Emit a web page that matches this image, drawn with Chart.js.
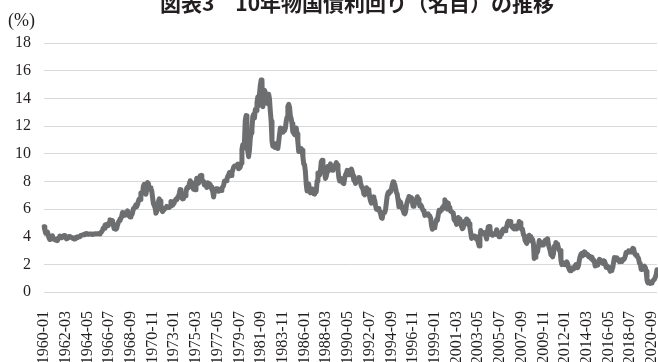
<!DOCTYPE html>
<html>
<head>
<meta charset="utf-8">
<script src="https://cdn.jsdelivr.net/npm/chart.js@4.4.1/dist/chart.umd.min.js"></script>
<style>
  html, body { margin: 0; padding: 0; background: #fff; overflow: hidden; }
  #wrap { position: relative; width: 658px; height: 362px; }
</style>
</head>
<body>
<div id="wrap"><canvas id="c" width="658" height="362"></canvas></div>
<script>
// 10-year government bond yield (nominal), monthly averages, %
const titleText = '図表3　10年物国債利回り（名目）の推移';
const unitLabel = '(%)';
const startYear = 1960;
const labelEvery = 26;           // one x label every 26 months
const yTicks = [0, 2, 4, 6, 8, 10, 12, 14, 16, 18];

const yields = [
  /*1960*/ 4.72, 4.49, 4.25, 4.28, 4.35, 4.15, 3.90, 3.80, 3.80, 3.89, 4.07, 3.84,
  /*1961*/ 3.84, 3.78, 3.74, 3.78, 3.71, 3.88, 3.92, 4.04, 3.98, 3.92, 3.94, 4.06,
  /*1962*/ 4.08, 4.04, 3.93, 3.84, 3.87, 3.91, 4.01, 3.98, 3.98, 3.93, 3.92, 3.86,
  /*1963*/ 3.83, 3.92, 3.93, 3.97, 3.93, 3.99, 4.02, 4.00, 4.08, 4.11, 4.12, 4.13,
  /*1964*/ 4.17, 4.15, 4.22, 4.23, 4.20, 4.17, 4.19, 4.19, 4.20, 4.19, 4.15, 4.18,
  /*1965*/ 4.19, 4.21, 4.21, 4.20, 4.21, 4.21, 4.20, 4.25, 4.29, 4.35, 4.45, 4.62,
  /*1966*/ 4.61, 4.83, 4.87, 4.75, 4.78, 4.81, 5.02, 5.22, 5.18, 5.01, 5.16, 4.84,
  /*1967*/ 4.58, 4.63, 4.54, 4.59, 4.85, 5.02, 5.16, 5.28, 5.30, 5.48, 5.75, 5.70,
  /*1968*/ 5.53, 5.56, 5.74, 5.64, 5.87, 5.72, 5.50, 5.42, 5.46, 5.58, 5.70, 6.03,
  /*1969*/ 6.04, 6.19, 6.30, 6.17, 6.32, 6.57, 6.72, 6.69, 7.16, 7.10, 7.14, 7.65,
  /*1970*/ 7.79, 7.24, 7.07, 7.39, 7.91, 7.84, 7.46, 7.53, 7.39, 7.33, 6.84, 6.39,
  /*1971*/ 6.24, 6.11, 5.70, 5.83, 6.39, 6.52, 6.73, 6.58, 6.14, 5.93, 5.81, 5.93,
  /*1972*/ 5.95, 6.08, 6.07, 6.19, 6.13, 6.11, 6.11, 6.21, 6.55, 6.48, 6.28, 6.36,
  /*1973*/ 6.46, 6.64, 6.71, 6.67, 6.85, 6.90, 7.13, 7.40, 7.09, 6.79, 6.73, 6.74,
  /*1974*/ 6.99, 6.96, 7.21, 7.51, 7.58, 7.54, 7.81, 8.04, 8.04, 7.90, 7.68, 7.43,
  /*1975*/ 7.50, 7.39, 7.73, 8.23, 8.06, 7.86, 8.06, 8.40, 8.43, 8.14, 8.05, 8.00,
  /*1976*/ 7.74, 7.79, 7.73, 7.56, 7.90, 7.86, 7.83, 7.77, 7.59, 7.41, 7.29, 6.87,
  /*1977*/ 7.21, 7.39, 7.46, 7.37, 7.46, 7.28, 7.33, 7.40, 7.34, 7.52, 7.58, 7.69,
  /*1978*/ 8.01, 8.03, 8.04, 8.15, 8.35, 8.46, 8.64, 8.41, 8.42, 8.64, 8.81, 9.01,
  /*1979*/ 9.10, 9.10, 9.12, 9.18, 9.25, 8.91, 8.95, 9.03, 9.33, 10.30, 10.65, 10.39,
  /*1980*/ 10.80, 12.41, 12.75, 11.47, 10.18, 9.78, 10.25, 11.10, 11.51, 11.75, 12.68, 12.84,
  /*1981*/ 12.57, 13.19, 13.12, 13.68, 14.10, 13.47, 14.28, 14.94, 15.32, 15.15, 13.39, 13.72,
  /*1982*/ 14.59, 14.43, 13.86, 13.87, 13.62, 14.30, 13.95, 13.06, 12.34, 10.91, 10.55, 10.54,
  /*1983*/ 10.46, 10.72, 10.51, 10.40, 10.38, 10.85, 11.38, 11.85, 11.65, 11.54, 11.69, 11.83,
  /*1984*/ 11.67, 11.84, 12.32, 12.63, 13.41, 13.56, 13.36, 12.72, 12.52, 12.16, 11.57, 11.50,
  /*1985*/ 11.38, 11.51, 11.86, 11.43, 10.85, 10.16, 10.31, 10.33, 10.37, 10.24, 9.78, 9.26,
  /*1986*/ 9.19, 8.70, 7.78, 7.30, 7.71, 7.80, 7.30, 7.17, 7.45, 7.43, 7.25, 7.11,
  /*1987*/ 7.08, 7.25, 7.25, 8.02, 8.61, 8.40, 8.45, 8.76, 9.42, 9.52, 8.86, 8.99,
  /*1988*/ 8.67, 8.21, 8.37, 8.72, 9.09, 8.92, 9.06, 9.26, 8.98, 8.80, 8.96, 9.11,
  /*1989*/ 9.09, 9.17, 9.36, 9.18, 8.86, 8.28, 8.02, 8.11, 8.19, 8.01, 7.87, 7.84,
  /*1990*/ 8.21, 8.47, 8.59, 8.79, 8.76, 8.48, 8.47, 8.75, 8.89, 8.72, 8.39, 8.08,
  /*1991*/ 8.09, 7.85, 8.11, 8.04, 8.07, 8.28, 8.27, 7.90, 7.65, 7.53, 7.42, 7.09,
  /*1992*/ 7.03, 7.34, 7.54, 7.48, 7.39, 7.26, 6.84, 6.59, 6.42, 6.59, 6.87, 6.77,
  /*1993*/ 6.60, 6.26, 5.98, 5.97, 6.04, 5.96, 5.81, 5.68, 5.36, 5.33, 5.72, 5.77,
  /*1994*/ 5.75, 5.97, 6.48, 6.97, 7.18, 7.10, 7.30, 7.24, 7.46, 7.74, 7.96, 7.81,
  /*1995*/ 7.78, 7.47, 7.20, 7.06, 6.63, 6.17, 6.28, 6.49, 6.20, 6.04, 5.93, 5.71,
  /*1996*/ 5.65, 5.81, 6.27, 6.51, 6.74, 6.91, 6.87, 6.64, 6.83, 6.53, 6.20, 6.30,
  /*1997*/ 6.58, 6.42, 6.69, 6.89, 6.71, 6.49, 6.22, 6.30, 6.21, 6.03, 5.88, 5.81,
  /*1998*/ 5.54, 5.57, 5.65, 5.64, 5.65, 5.50, 5.46, 5.34, 4.81, 4.53, 4.83, 4.65,
  /*1999*/ 4.72, 5.00, 5.23, 5.18, 5.54, 5.90, 5.79, 5.94, 5.92, 6.11, 6.03, 6.28,
  /*2000*/ 6.66, 6.52, 6.26, 5.99, 6.44, 6.10, 6.05, 5.83, 5.80, 5.74, 5.72, 5.24,
  /*2001*/ 5.16, 5.10, 4.89, 5.14, 5.39, 5.28, 5.24, 4.97, 4.73, 4.57, 4.65, 5.09,
  /*2002*/ 5.04, 4.91, 5.28, 5.21, 5.16, 4.93, 4.65, 4.26, 3.87, 3.94, 4.05, 4.03,
  /*2003*/ 4.05, 3.90, 3.81, 3.96, 3.57, 3.33, 3.98, 4.45, 4.27, 4.29, 4.30, 4.27,
  /*2004*/ 4.15, 4.08, 3.83, 4.35, 4.72, 4.73, 4.50, 4.28, 4.13, 4.10, 4.19, 4.23,
  /*2005*/ 4.22, 4.17, 4.50, 4.34, 4.14, 4.00, 4.18, 4.26, 4.20, 4.46, 4.54, 4.47,
  /*2006*/ 4.42, 4.57, 4.72, 4.99, 5.11, 5.11, 5.09, 4.88, 4.72, 4.73, 4.60, 4.56,
  /*2007*/ 4.76, 4.72, 4.56, 4.69, 4.75, 5.10, 5.00, 4.67, 4.52, 4.53, 4.15, 4.10,
  /*2008*/ 3.74, 3.74, 3.51, 3.68, 3.88, 4.10, 4.01, 3.89, 3.69, 3.81, 3.53, 2.42,
  /*2009*/ 2.52, 2.87, 2.82, 2.93, 3.29, 3.72, 3.56, 3.59, 3.40, 3.39, 3.40, 3.59,
  /*2010*/ 3.73, 3.69, 3.73, 3.85, 3.42, 3.20, 3.01, 2.70, 2.65, 2.54, 2.76, 3.29,
  /*2011*/ 3.39, 3.58, 3.41, 3.46, 3.17, 3.00, 3.00, 2.30, 1.98, 2.15, 2.01, 1.98,
  /*2012*/ 1.97, 1.97, 2.17, 2.05, 1.80, 1.62, 1.53, 1.68, 1.72, 1.75, 1.65, 1.72,
  /*2013*/ 1.91, 1.98, 1.96, 1.76, 1.93, 2.30, 2.58, 2.74, 2.81, 2.62, 2.72, 2.90,
  /*2014*/ 2.86, 2.71, 2.72, 2.71, 2.56, 2.60, 2.54, 2.42, 2.53, 2.30, 2.33, 2.21,
  /*2015*/ 1.88, 1.98, 2.04, 1.94, 2.20, 2.36, 2.32, 2.17, 2.17, 2.07, 2.26, 2.24,
  /*2016*/ 2.09, 1.78, 1.89, 1.81, 1.81, 1.64, 1.50, 1.56, 1.63, 1.76, 2.14, 2.49,
  /*2017*/ 2.43, 2.42, 2.48, 2.30, 2.30, 2.19, 2.32, 2.21, 2.20, 2.36, 2.35, 2.40,
  /*2018*/ 2.58, 2.86, 2.84, 2.87, 2.98, 2.91, 2.89, 2.89, 3.00, 3.15, 3.12, 2.83,
  /*2019*/ 2.71, 2.68, 2.57, 2.53, 2.40, 2.07, 2.06, 1.63, 1.70, 1.71, 1.81, 1.86,
  /*2020*/ 1.76, 1.50, 0.87, 0.66, 0.67, 0.73, 0.62, 0.65, 0.68, 0.79, 0.87, 0.93,
  /*2021*/ 1.08, 1.26, 1.61
];

// "YYYY-MM" category for each monthly value
const months = yields.map((_, i) => {
  const y = startYear + Math.floor(i / 12);
  const m = (i % 12) + 1;
  return y + '-' + String(m).padStart(2, '0');
});

const serif = "'Liberation Serif', 'DejaVu Serif', serif";
const textColor = '#231f20';

// title and unit caption drawn above the plot
const captions = {
  id: 'captions',
  afterDraw(chart) {
    const ctx = chart.ctx;
    ctx.save();
    ctx.fillStyle = textColor;
    ctx.textBaseline = 'alphabetic';
    ctx.textAlign = 'center';
    ctx.font = "bold 21px 'Noto Sans CJK JP', sans-serif";
    ctx.fillText(titleText, 357, 11);
    ctx.textAlign = 'left';
    ctx.font = '18px ' + serif;
    ctx.fillText(unitLabel, 8, 26);
    ctx.restore();
  }
};

new Chart(document.getElementById('c'), {
  type: 'line',
  data: {
    labels: months,
    datasets: [{
      data: yields,
      borderColor: '#6d6e70',
      borderWidth: 5,
      pointRadius: 0,
      tension: 0,
      borderJoinStyle: 'round',
      borderCapStyle: 'round',
      fill: false
    }]
  },
  options: {
    responsive: false,
    animation: false,
    devicePixelRatio: 1,
    layout: { padding: { top: 43, right: 1, left: 0, bottom: 0 } },
    plugins: {
      legend: { display: false },
      title: { display: false },
      tooltip: { enabled: false }
    },
    scales: {
      x: {
        type: 'category',
        grid: { display: false },
        border: { display: false },
        ticks: {
          autoSkip: false,
          minRotation: 90,
          maxRotation: 90,
          padding: 11,
          color: textColor,
          font: { family: serif, size: 16 },
          callback: function (v, i) {
            return i % labelEvery === 0 ? this.getLabelForValue(v) : '';
          }
        },
        afterFit: s => { s.height = 70; s.paddingLeft = 0; s.paddingRight = 0; }
      },
      y: {
        min: 0,
        max: 18,
        afterBuildTicks: s => { s.ticks = yTicks.map(v => ({ value: v })); },
        grid: { color: '#d9d9d9', lineWidth: 1, drawTicks: false },
        border: { display: false },
        ticks: {
          padding: 13,
          color: textColor,
          font: { family: serif, size: 16 }
        },
        afterFit: s => { s.width = 44; }
      }
    }
  },
  plugins: [captions]
});
</script>
</body>
</html>
